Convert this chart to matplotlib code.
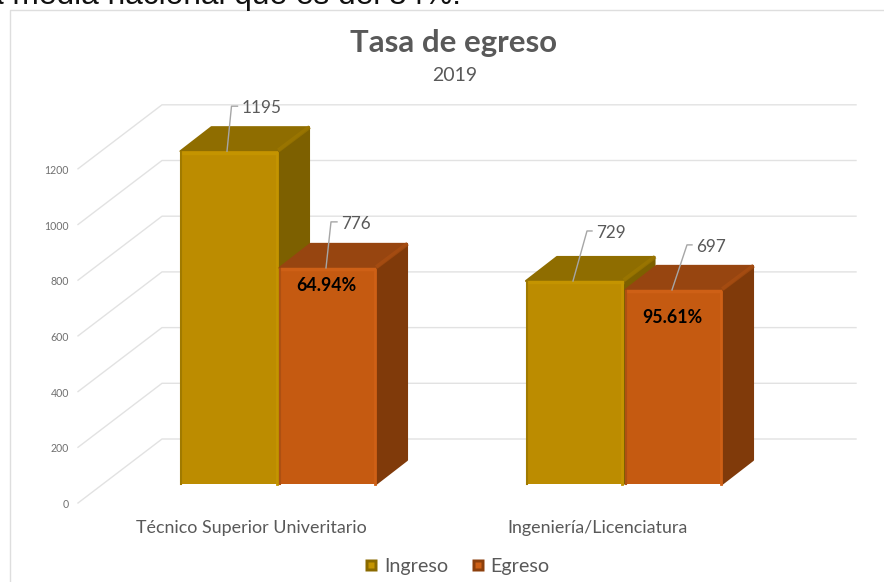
import matplotlib
matplotlib.use('Agg')
import matplotlib.pyplot as plt
from matplotlib.legend_handler import HandlerTuple
from matplotlib.lines import Line2D
from matplotlib.patches import Polygon

# === data ===
categories = ['Técnico Superior Univeritario', 'Ingeniería/Licenciatura']
ingreso = [1195, 729]
egreso = [776, 697]
tasa = ['64.94%', '95.61%']
y_ticks = [0, 200, 400, 600, 800, 1000, 1200]

# === layout (x in pixels, y in chart units) ===
W, H = 884, 582
PX = 0.2785          # pixels per unit
BASE = 484           # pixel row of value 0 at the bar front
def units(px):
    return px / PX

x_ing = [180.5, 526]
x_egr = [279.5, 625.5]
w_ing = 97.5
w_egr = 96.5
depth_x = 31
depth_y = units(24)
wall_back = units(45)
wall_front = units(-19)

gold = dict(front='#BC8C00', top='#8F6D00', side='#7D6000', light='#C49400', edge='#A07A00', dark='#8A6A00')
orange = dict(front='#C55A11', top='#974510', side='#803A0A', light='#CE6016', edge='#AD5012', dark='#8C3F0C')

plt.rcParams['font.family'] = ['Lato', 'DejaVu Sans']
fig = plt.figure(figsize=(W / 100, H / 100), dpi=100)
ax = fig.add_axes([0, 0, 1, 1])
ax.set_xlim(0, W)
ax.set_ylim(units(BASE - H), units(BASE))
ax.axis('off')

# chart frame and the clipped sentence above it
fig.add_artist(Line2D([9.5 / W, 9.5 / W, 1], [0, 1 - 9.5 / H, 1 - 9.5 / H], color='#DEDEDE', lw=1))
fig.text(-13.5 / W, 1 - 4 / H, 'a media nacional que es del 84%.', family='Liberation Sans',
         fontsize=22.8, color='#111111', va='baseline')

# === walls ===
for v in y_ticks:
    ax.plot([78, 162, 856], [v + wall_front, v + wall_back, v + wall_back],
            color='#E2E2E2', lw=1, zorder=1)
    ax.text(69, v + wall_front - units(1.5), str(v), ha='right', va='center', fontsize=7.6, color='#707070')

# === bars ===
def draw_bar(x, w, v, c, z):
    ax.bar(x, v, width=w, align='edge', color=c['front'], zorder=z + 0.2)
    ax.add_patch(Polygon([(x + w, 0), (x + w + depth_x, depth_y), (x + w + depth_x, v + depth_y), (x + w, v)],
                         closed=True, fc=c['side'], ec=c['side'], lw=1.5, joinstyle='round', zorder=z))
    ax.add_patch(Polygon([(x, v), (x + depth_x, v + depth_y), (x + w + depth_x, v + depth_y), (x + w, v)],
                         closed=True, fc=c['top'], ec=c['top'], lw=1.5, joinstyle='round', zorder=z + 0.1))
    # bevel highlights
    ax.plot([x + 2, x + w - 2], [v - units(1.5), v - units(1.5)], color=c['light'], lw=2.5, zorder=z + 0.3)
    ax.plot([x + w - 1.5, x + w - 1.5], [0, v - units(2)], color=c['light'], lw=2, zorder=z + 0.3)
    ax.plot([x + 0.7, x + 0.7], [0, v - units(1)], color=c['edge'], lw=1.5, zorder=z + 0.3)
    ax.plot([x + w + 2, x + w + depth_x - 1], [v + units(2), v + depth_y - units(1)],
            color=c['edge'], lw=3, alpha=0.6, zorder=z + 0.3)

for i in range(len(categories)):
    z = 2 + i * 2
    draw_bar(x_ing[i], w_ing, ingreso[i], gold, z)
    draw_bar(x_egr[i], w_egr, egreso[i], orange, z + 1)

# === data labels with leaders ===
def label(x, v, dx, dy, tail, name):
    ax.plot([x, x + dx, x + dx + tail], [v, v + units(dy), v + units(dy)],
            color='#A6A6A6', lw=1, zorder=10)
    ax.text(x + dx + tail + 4, v + units(dy - 2), str(name), ha='left', va='center',
            fontsize=12.3, color='#595959', zorder=10)

label(x_ing[0] + 46.5, ingreso[0], 4.5, 45, 6, ingreso[0])
label(x_egr[0] + 46.5, egreso[0], 5, 46, 6, egreso[0])
label(x_ing[1] + 47, ingreso[1], 14, 50, 5, ingreso[1])
label(x_egr[1] + 46.5, egreso[1], 15, 45, 5, egreso[1])

ax.text(x_egr[0] + 46.5, egreso[0] - units(17.5), tasa[0], ha='center', va='center',
        fontsize=12.8, fontweight='bold', color='black', zorder=10)
ax.text(x_egr[1] + 46.5, egreso[1] - units(27.5), tasa[1], ha='center', va='center',
        fontsize=12.8, fontweight='bold', color='black', zorder=10)

# === titles and category labels ===
ax.text(454, units(BASE - 43), 'Tasa de egreso', ha='center', va='center',
        fontsize=22.4, fontweight='bold', color='#595959')
ax.text(454.5, units(BASE - 75.5), '2019', ha='center', va='center', fontsize=14, color='#595959')
for cx, name in zip([251.5, 597.5], categories):
    ax.text(cx, units(BASE - 528.5), name, ha='center', va='center', fontsize=12.9, color='#595959')

# === legend ===
def key(c):
    return (Line2D([], [], ls='none', marker='s', ms=8.5, mfc=c['dark'], mec='none'),
            Line2D([], [], ls='none', marker='s', ms=4.5, mfc=c['light'], mec='none'))

fig.legend([key(gold), key(orange)], ['Ingreso', 'Egreso'], loc='center', bbox_to_anchor=(457 / W, 1 - 566 / H),
           ncol=2, frameon=False, fontsize=14.2, labelcolor='#595959', handlelength=0.7, handleheight=0.75,
           handletextpad=0.3, columnspacing=1.15, borderpad=0,
           handler_map={tuple: HandlerTuple(ndivide=1, pad=0)})

fig.savefig('out.png', dpi=100)
